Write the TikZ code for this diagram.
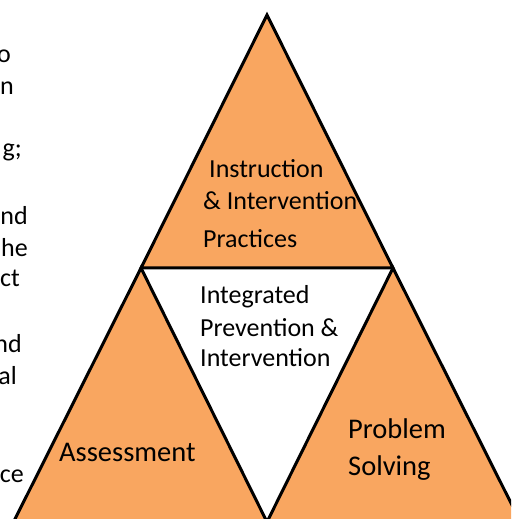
\documentclass[tikz,border=0pt]{standalone}
\usepackage{fontspec}
\setmainfont{Carlito}
\definecolor{tri}{RGB}{249,166,96}
\begin{document}
\begin{tikzpicture}[x=1pt,y=1pt,
  trishape/.style={fill=tri,draw=black,line width=3pt,line join=miter},
  lbl/.style={anchor=base west,inner sep=0pt,font=\fontsize{26}{32}\selectfont},
  biglbl/.style={anchor=base west,inner sep=0pt,font=\fontsize{28.5}{34}\selectfont},
  frag/.style={anchor=base east,inner sep=0pt,font=\fontsize{26}{32}\selectfont}]
\useasboundingbox (0,0) rectangle (511,519);
\clip (0,0) rectangle (511,519);
% corners
\coordinate (apex) at (267,504);
\coordinate (ml) at (141,251);
\coordinate (mr) at (393,251);
\coordinate (bl) at (13.5,-3);
\coordinate (bm) at (267,-3);
\coordinate (bm2) at (267,-3);
\coordinate (br) at (520.5,-3);
% triangles
\draw[trishape] (apex) -- (mr) -- (ml) -- cycle;
\draw[trishape] (ml) -- (bm) -- (bl) -- cycle;
\draw[trishape] (mr) -- (br) -- (bm2) -- cycle;
% labels
\node[lbl] (i1) at (209,341) {Instruction};
\node[lbl] (i2) at (203,309) {\& Intervention};
\node[lbl] (i3) at (203,271) {Practices};
\node[lbl] (c1) at (200,215) {Integrated};
\node[lbl] (c2) at (200,182) {Prevention \&};
\node[lbl] (c3) at (200,152) {Intervention};
\node[biglbl] (as) at (59,57) {Assessment};
\node[biglbl] (p1) at (348,80) {Problem};
\node[biglbl] (p2) at (348,43) {Solving};
% clipped text fragments on the left
\node[frag] (f1) at (11,456) {o};
\node[frag] (f2) at (14,424) {n};
\node[frag] (f3) at (22,362) {g;};
\node[frag] (f4) at (28,294) {nd};
\node[frag] (f5) at (28,262) {he};
\node[frag] (f6) at (20,232) {ct};
\node[frag] (f7) at (22,166) {nd};
\node[frag] (f8) at (17,134) {al};
\node[frag] (f9) at (24,36) {ce};
\end{tikzpicture}
\end{document}
